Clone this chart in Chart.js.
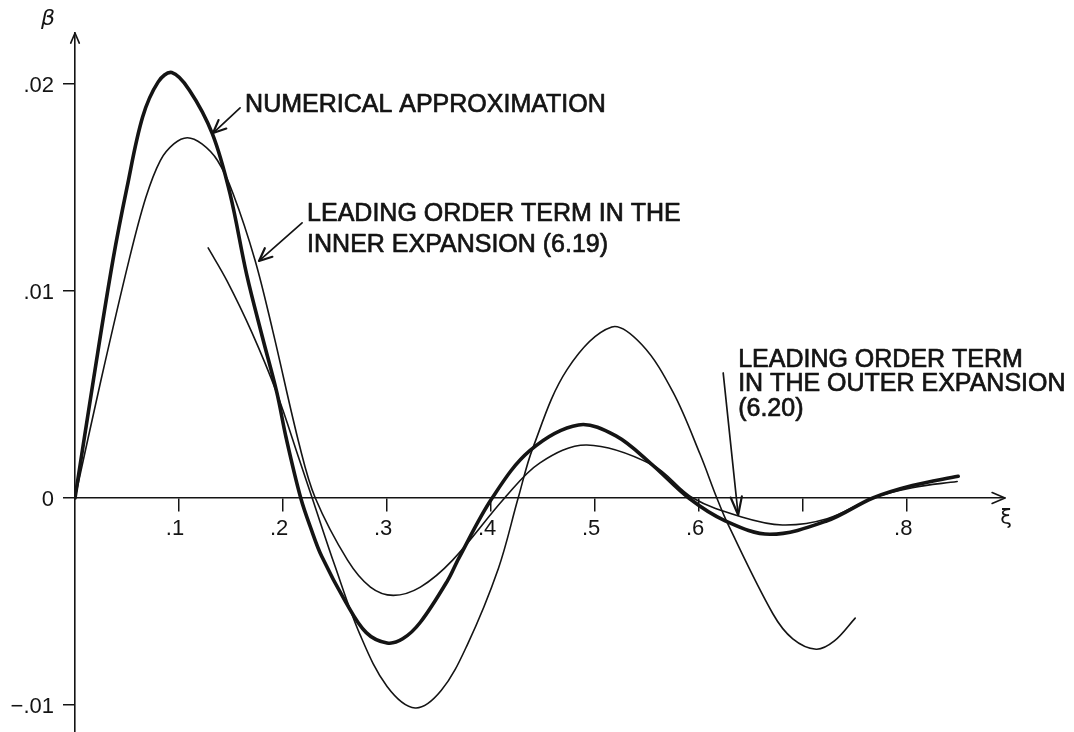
<!DOCTYPE html>
<html>
<head>
<meta charset="utf-8">
<title>Numerical approximation and leading order terms</title>
<script src="https://cdn.jsdelivr.net/npm/chart.js@4.4.1/dist/chart.umd.min.js"></script>
<style>
  html, body { margin: 0; padding: 0; background: #fff; overflow: hidden; }
  #wrap { position: relative; width: 1074px; height: 732px; }
</style>
</head>
<body>
<div id="wrap"><canvas id="chart"></canvas></div>
<script>
// numerical approximation (heavy curve)
const numericalXi = [0, 0.018, 0.0365, 0.05, 0.065, 0.08, 0.093, 0.11, 0.132, 0.149, 0.165, 0.18, 0.194, 0.203, 0.217, 0.227, 0.237, 0.26, 0.28, 0.3, 0.315, 0.332, 0.358, 0.369, 0.401, 0.4375, 0.484, 0.52, 0.555, 0.59, 0.625, 0.668, 0.723, 0.767, 0.805, 0.849];
const numericalBeta = [0, 0.0058, 0.0115, 0.015, 0.0184, 0.0201, 0.02055, 0.0197, 0.0176, 0.0147, 0.0108, 0.0078, 0.0051, 0.0029, 0, -0.0015, -0.0028, -0.005, -0.0065, -0.007, -0.0068, -0.006, -0.004, -0.0029, 0, 0.0023, 0.00353, 0.003, 0.0016, 0, -0.0011, -0.00175, -0.0011, 0, 0.0006, 0.00105];

// leading order term in the inner expansion (6.19)
const innerXi = [0, 0.025, 0.052, 0.068, 0.082, 0.095, 0.108, 0.122, 0.137, 0.152, 0.173, 0.19, 0.216, 0.231, 0.262, 0.284, 0.306, 0.332, 0.363, 0.413, 0.447, 0.492, 0.555, 0.594, 0.64, 0.68, 0.723, 0.767, 0.805, 0.848];
const innerBeta = [0, 0.0057, 0.0115, 0.0145, 0.0163, 0.0171, 0.0174, 0.0171, 0.0163, 0.0147, 0.0115, 0.0081, 0.0025, 0, -0.003, -0.0043, -0.0047, -0.0043, -0.003, 0, 0.0017, 0.00256, 0.0016, 0, -0.0009, -0.0013, -0.001, 0, 0.0005, 0.0008];

// leading order term in the outer expansion (6.20)
const outerXi = [0.128, 0.146, 0.17, 0.194, 0.216, 0.228, 0.25, 0.274, 0.3, 0.327, 0.352, 0.377, 0.407, 0.426, 0.44, 0.473, 0.516, 0.545, 0.575, 0.601, 0.617, 0.628, 0.671, 0.69, 0.7125, 0.73, 0.75];
const outerBeta = [0.01208, 0.0105, 0.008, 0.00507, 0.0018, 0, -0.0033, -0.0066, -0.0091, -0.01014, -0.0093, -0.0071, -0.0034, 0, 0.0024, 0.0062, 0.00826, 0.0074, 0.0051, 0.0021, 0, -0.0013, -0.0056, -0.0068, -0.0073, -0.0069, -0.0058];

const xTickValues = [0.1, 0.2, 0.3, 0.4, 0.5, 0.6, 0.7, 0.8];
const xTickLabels = [".1", ".2", ".3", ".4", ".5", ".6", "", ".8"];
const yTickValues = [-0.01, 0, 0.01, 0.02];
const yTickLabels = ["\u2212.01", "0", ".01", ".02"];

const INK = "#141414";

// callouts, anchored in data units (xi, beta)
const notes = [
  { lines: ["NUMERICAL APPROXIMATION"], at: [0.1635, 0.01865], gap: 0 },
  { lines: ["LEADING ORDER TERM IN THE", "INNER EXPANSION (6.19)"], at: [0.2231, 0.01338], gap: 31 },
  { lines: ["LEADING ORDER TERM", "IN THE OUTER EXPANSION", "(6.20)"], at: [0.6375, 0.00633], gap: 24.5 }
];
const pointers = [
  { from: [0.1587, 0.01884], to: [0.1327, 0.01763], head: 14, spread: 0.42 },
  { from: [0.2183, 0.01329], to: [0.1769, 0.01145], head: 14, spread: 0.42 },
  { from: [0.6231, 0.00604], to: [0.6375, -0.00082], head: 19, spread: 0.3 }
];

const toPoints = (xs, ys) => xs.map((x, i) => ({ x, y: ys[i] }));

const arrowHead = (ctx, x1, y1, x2, y2, len, spread) => {
  const ang = Math.atan2(y2 - y1, x2 - x1);
  ctx.beginPath();
  ctx.moveTo(x2 - len * Math.cos(ang - spread), y2 - len * Math.sin(ang - spread));
  ctx.lineTo(x2, y2);
  ctx.lineTo(x2 - len * Math.cos(ang + spread), y2 - len * Math.sin(ang + spread));
  ctx.stroke();
};

const decorations = {
  id: "decorations",
  afterDraw(chart) {
    const { ctx, chartArea, scales } = chart;
    const px = (v) => scales.x.getPixelForValue(v);
    const py = (v) => scales.y.getPixelForValue(v);
    const y0 = py(0);
    ctx.save();
    ctx.strokeStyle = INK;
    ctx.fillStyle = INK;
    ctx.lineCap = "round";
    ctx.lineJoin = "round";

    // axis arrows
    ctx.lineWidth = 1.6;
    arrowHead(ctx, chartArea.left, chartArea.top + 20, chartArea.left, chartArea.top, 11, 0.4);
    arrowHead(ctx, chartArea.right - 20, y0, chartArea.right, y0, 14, 0.4);

    // axis names
    ctx.font = "italic 22px 'DejaVu Sans'";
    ctx.textAlign = "center";
    ctx.textBaseline = "middle";
    ctx.fillText("\u03b2", chartArea.left - 27, chartArea.top - 14);
    ctx.font = "21px 'DejaVu Sans'";
    ctx.fillText("\u03be", chartArea.right + 1, y0 + 21);

    // callout arrows
    pointers.forEach((p) => {
      const x1 = px(p.from[0]), y1 = py(p.from[1]);
      const x2 = px(p.to[0]), y2 = py(p.to[1]);
      ctx.lineWidth = 1.7;
      ctx.beginPath();
      ctx.moveTo(x1, y1);
      ctx.lineTo(x2, y2);
      ctx.stroke();
      ctx.lineWidth = 2.2;
      arrowHead(ctx, x1, y1, x2, y2, p.head, p.spread);
    });

    // callout text, lightly stroked to match the pen lettering
    ctx.font = "25px 'Liberation Sans'";
    ctx.textAlign = "left";
    ctx.textBaseline = "alphabetic";
    ctx.lineWidth = 0.7;
    notes.forEach((n) => {
      n.lines.forEach((line, i) => {
        const tx = px(n.at[0]);
        const ty = py(n.at[1]) + i * n.gap;
        ctx.fillText(line, tx, ty);
        ctx.strokeText(line, tx, ty);
      });
    });
    ctx.restore();
  }
};

const curve = (data, width) => ({
  data,
  borderColor: INK,
  borderWidth: width,
  pointRadius: 0,
  fill: false,
  tension: 0.35,
  borderCapStyle: "round",
  borderJoinStyle: "round"
});

new Chart(document.getElementById("chart"), {
  type: "line",
  data: {
    datasets: [
      curve(toPoints(numericalXi, numericalBeta), 3.6),
      curve(toPoints(innerXi, innerBeta), 1.6),
      curve(toPoints(outerXi, outerBeta), 1.6)
    ]
  },
  options: {
    responsive: true,
    maintainAspectRatio: false,
    animation: false,
    layout: { padding: { left: 0, right: 69, top: 33, bottom: 0 } },
    plugins: { legend: { display: false }, tooltip: { enabled: false } },
    scales: {
      x: {
        type: "linear",
        position: { y: 0 },
        min: 0,
        max: 0.894,
        afterBuildTicks: (scale) => { scale.ticks = xTickValues.map((value) => ({ value })); },
        border: { display: true, color: INK, width: 1.6 },
        grid: { drawOnChartArea: false, drawTicks: true, tickLength: 13, color: INK, lineWidth: 1.5 },
        ticks: {
          autoSkip: false,
          maxRotation: 0,
          padding: 5,
          labelOffset: -4,
          color: INK,
          font: { family: "'Liberation Sans'", size: 22 },
          callback: (value, index) => xTickLabels[index]
        }
      },
      y: {
        type: "linear",
        position: "left",
        min: -0.0113,
        max: 0.02246,
        afterBuildTicks: (scale) => { scale.ticks = yTickValues.map((value) => ({ value })); },
        afterFit: (scale) => {
          scale.width = 75;
          scale.paddingTop = 0;
          scale.paddingBottom = 0;
        },
        border: { display: true, color: INK, width: 1.6 },
        grid: { drawOnChartArea: false, drawTicks: true, tickLength: 12, color: INK, lineWidth: 1.5 },
        ticks: {
          padding: 9,
          labelOffset: 2,
          color: INK,
          font: { family: "'Liberation Sans'", size: 22 },
          callback: (value, index) => yTickLabels[index]
        }
      }
    }
  },
  plugins: [decorations]
});
</script>
</body>
</html>
